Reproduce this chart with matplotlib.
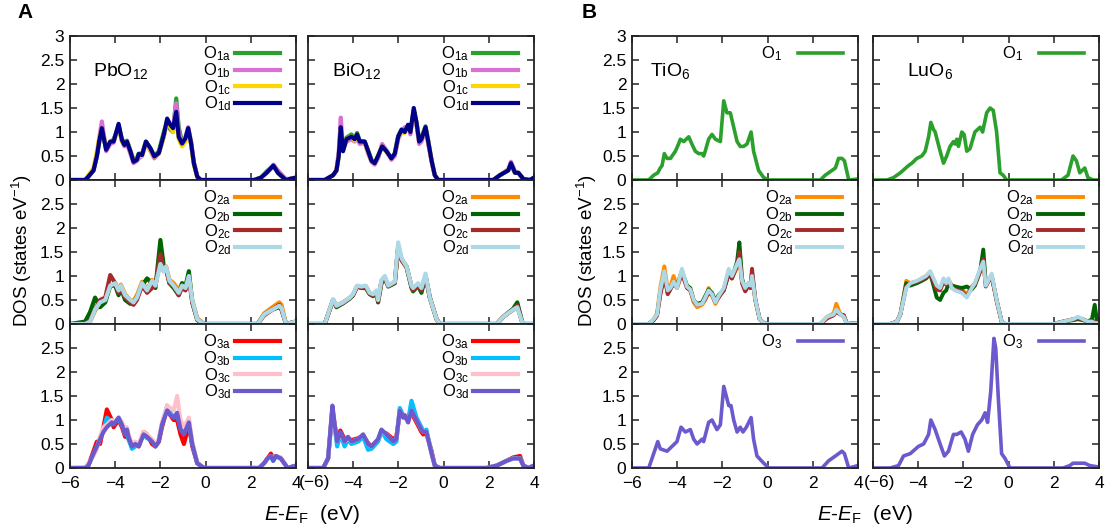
import matplotlib
matplotlib.use('Agg')
import matplotlib.pyplot as plt

plt.rcParams['font.family'] = ['Liberation Sans', 'DejaVu Sans']
plt.rcParams['mathtext.fontset'] = 'custom'
plt.rcParams['mathtext.rm'] = 'Liberation Sans'
plt.rcParams['mathtext.it'] = 'Liberation Sans:italic'
plt.rcParams['mathtext.bf'] = 'Liberation Sans:bold'

# ---------------- data: panel A, PbO12 ----------------
pbE1 = [-6.0, -5.33, -5.19, -4.96, -4.81, -4.70, -4.59, -4.40, -4.22, -4.07, -3.85, -3.70, -3.59, -3.48, -3.33,
        -3.19, -3.04, -2.96, -2.81, -2.64, -2.44, -2.27, -2.07, -1.85, -1.70, -1.56, -1.44, -1.30, -1.19, -1.04,
        -0.89, -0.77, -0.64, -0.52, -0.37, -0.22, 2.15, 2.45, 2.7, 3.0, 3.2, 3.55, 3.8, 4.0]
pb_O1a = [0, 0, 0.07, 0.2, 0.5, 0.8, 1.0, 0.65, 0.78, 0.85, 1.1, 0.85, 0.78, 0.82, 0.62,
          0.42, 0.45, 0.55, 0.55, 0.8, 0.65, 0.5, 0.6, 1.0, 1.2, 1.05, 1.0, 1.7, 1.1, 0.78,
          0.85, 1.05, 0.75, 0.35, 0.07, 0, 0, 0.05, 0.18, 0.3, 0.15, 0, 0.03, 0.05]
pb_O1b = [0, 0, 0.07, 0.2, 0.5, 0.9, 1.22, 0.6, 0.75, 0.78, 1.15, 0.8, 0.7, 0.75, 0.55,
          0.35, 0.4, 0.45, 0.5, 0.78, 0.6, 0.45, 0.55, 0.9, 1.25, 1.1, 1.1, 1.6, 1.0, 0.75,
          0.9, 1.1, 0.8, 0.38, 0.08, 0, 0, 0.05, 0.15, 0.32, 0.2, 0.02, 0.03, 0.05]
pb_O1c = [0, 0, 0.1, 0.25, 0.6, 0.9, 1.05, 0.7, 0.8, 0.8, 1.12, 0.8, 0.75, 0.8, 0.6,
          0.4, 0.42, 0.52, 0.5, 0.78, 0.62, 0.48, 0.55, 0.9, 1.25, 1.1, 1.0, 1.35, 0.85, 0.7,
          0.8, 1.0, 0.72, 0.32, 0.05, 0, 0, 0.05, 0.15, 0.28, 0.15, 0, 0.03, 0.05]
pb_O1d = [0, 0, 0.07, 0.2, 0.5, 0.83, 1.08, 0.63, 0.8, 0.8, 1.17, 0.83, 0.73, 0.8, 0.6,
          0.38, 0.42, 0.54, 0.52, 0.8, 0.66, 0.49, 0.56, 0.94, 1.28, 1.15, 1.08, 1.42, 0.9, 0.76,
          0.87, 1.08, 0.76, 0.35, 0.07, 0, 0, 0.05, 0.15, 0.3, 0.15, 0, 0.03, 0.05]

pbE2 = [-6.0, -5.33, -5.11, -4.89, -4.67, -4.44, -4.22, -4.0, -3.85, -3.75, -3.56, -3.33, -3.19, -3.04, -2.81,
        -2.59, -2.37, -2.22, -2.0, -1.85, -1.75, -1.6, -1.41, -1.19, -1.04, -0.89, -0.74, -0.59, -0.37, -0.07,
        2.3, 2.59, 2.96, 3.26, 3.36, 3.56, 4.0]
pb_O2a = [0, 0, 0.05, 0.28, 0.42, 0.5, 0.78, 0.85, 0.72, 0.82, 0.62, 0.5, 0.48, 0.6, 0.88,
          0.72, 0.92, 0.82, 1.3, 1.15, 1.2, 0.92, 0.85, 0.7, 0.85, 0.8, 1.0, 0.5, 0.12, 0,
          0, 0.22, 0.35, 0.45, 0.4, 0, 0.05]
pb_O2b = [0, 0.05, 0.25, 0.55, 0.35, 0.45, 0.8, 0.8, 0.6, 0.75, 0.5, 0.42, 0.45, 0.55, 0.8,
          0.95, 0.85, 0.75, 1.75, 1.2, 1.15, 0.85, 0.75, 0.6, 0.85, 0.78, 1.1, 0.45, 0.08, 0,
          0, 0.2, 0.3, 0.35, 0.3, 0, 0.05]
pb_O2c = [0, 0, 0.08, 0.3, 0.5, 0.55, 1.02, 0.85, 0.65, 0.75, 0.55, 0.45, 0.4, 0.5, 0.8,
          0.65, 0.75, 0.8, 1.45, 1.1, 1.15, 0.85, 0.8, 0.6, 0.75, 0.7, 0.95, 0.45, 0.1, 0,
          0, 0.18, 0.3, 0.4, 0.3, 0, 0.05]
pb_O2d = [0, 0, 0.05, 0.3, 0.45, 0.5, 0.8, 0.85, 0.7, 0.8, 0.6, 0.5, 0.45, 0.55, 0.85,
          0.7, 0.9, 0.8, 1.25, 1.1, 1.2, 0.9, 0.8, 0.65, 0.8, 0.75, 1.0, 0.5, 0.1, 0,
          0, 0.2, 0.3, 0.38, 0.33, 0, 0.05]

pbE3 = [-6.0, -5.33, -5.19, -4.96, -4.81, -4.67, -4.52, -4.37, -4.15, -4.07, -3.85, -3.70, -3.56, -3.48, -3.41,
        -3.26, -3.11, -2.96, -2.74, -2.59, -2.37, -2.22, -2.07, -1.93, -1.70, -1.56, -1.41, -1.26, -1.11, -0.96,
        -0.74, -0.59, -0.37, -0.07, 2.37, 2.59, 2.74, 2.89, 2.99, 3.11, 3.33, 3.63, 4.0]
pb_O3a = [0, 0, 0.05, 0.35, 0.55, 0.5, 0.85, 1.22, 1.0, 0.85, 1.0, 0.85, 0.65, 0.75, 0.6,
          0.45, 0.5, 0.45, 0.75, 0.7, 0.5, 0.45, 0.55, 0.85, 1.25, 1.1, 1.0, 1.0, 0.7, 0.5,
          0.9, 0.45, 0.1, 0, 0, 0.1, 0.2, 0.3, 0.2, 0.25, 0.2, 0, 0.05]
pb_O3b = [0, 0, 0.05, 0.3, 0.45, 0.6, 0.8, 1.05, 0.95, 0.95, 1.0, 0.9, 0.7, 0.75, 0.6,
          0.4, 0.45, 0.5, 0.7, 0.62, 0.58, 0.45, 0.6, 0.9, 1.3, 1.15, 1.05, 1.1, 0.85, 0.72,
          0.95, 0.5, 0.1, 0, 0, 0.1, 0.2, 0.25, 0.15, 0.25, 0.2, 0, 0.05]
pb_O3c = [0, 0.02, 0.1, 0.25, 0.4, 0.65, 0.85, 0.9, 1.0, 0.95, 1.05, 0.95, 0.8, 0.85, 0.7,
          0.5, 0.55, 0.5, 0.75, 0.7, 0.6, 0.5, 0.6, 0.95, 1.3, 1.25, 1.2, 1.5, 1.0, 0.85,
          1.05, 0.55, 0.12, 0, 0, 0.1, 0.2, 0.25, 0.2, 0.25, 0.22, 0, 0.05]
pb_O3d = [0, 0, 0.05, 0.3, 0.45, 0.6, 0.75, 0.85, 0.95, 0.9, 1.05, 0.9, 0.7, 0.8, 0.65,
          0.45, 0.5, 0.45, 0.7, 0.65, 0.55, 0.45, 0.55, 0.9, 1.2, 1.1, 1.05, 1.15, 0.8, 0.7,
          0.95, 0.5, 0.1, 0, 0, 0.1, 0.2, 0.25, 0.15, 0.25, 0.2, 0, 0.05]

# ---------------- data: panel A, BiO12 ----------------
biE1 = [-6.0, -5.26, -4.89, -4.74, -4.64, -4.55, -4.45, -4.30, -4.08, -3.93, -3.83, -3.71, -3.49, -3.34, -3.19,
        -3.05, -2.90, -2.72, -2.53, -2.31, -2.16, -2.01, -1.86, -1.72, -1.57, -1.47, -1.32, -1.20, -1.08, -0.98,
        -0.80, -0.68, -0.53, -0.39, -0.24, 2.20, 2.49, 2.86, 2.98, 3.16, 3.31, 3.53, 3.82, 4.0]
bi_O1a = [0, 0, 0.1, 0.2, 0.5, 1.05, 0.65, 0.88, 0.95, 0.85, 0.98, 0.82, 0.8, 0.62, 0.42,
          0.35, 0.5, 0.72, 0.6, 0.45, 0.55, 0.92, 1.05, 1.0, 1.15, 1.0, 1.45, 1.2, 0.85, 0.88,
          1.12, 0.82, 0.4, 0.1, 0, 0, 0.1, 0.2, 0.32, 0.15, 0.15, 0.02, 0, 0.05]
bi_O1b = [0, 0, 0.1, 0.2, 0.6, 1.3, 0.65, 0.8, 0.85, 0.8, 0.9, 0.75, 0.78, 0.55, 0.38,
          0.32, 0.45, 0.75, 0.62, 0.42, 0.5, 0.85, 1.0, 1.1, 1.1, 0.95, 1.45, 1.15, 0.75, 0.8,
          1.05, 0.75, 0.38, 0.1, 0, 0, 0.1, 0.22, 0.38, 0.18, 0.15, 0.02, 0, 0.05]
bi_O1c = [0, 0, 0.1, 0.2, 0.5, 1.05, 0.6, 0.85, 0.9, 0.82, 0.92, 0.8, 0.78, 0.58, 0.4,
          0.35, 0.5, 0.7, 0.58, 0.45, 0.55, 0.88, 1.0, 0.98, 1.12, 1.0, 1.45, 1.18, 0.8, 0.85,
          1.08, 0.8, 0.4, 0.1, 0, 0, 0.1, 0.2, 0.33, 0.15, 0.15, 0.02, 0, 0.05]
bi_O1d = [0, 0, 0.1, 0.2, 0.5, 1.1, 0.6, 0.85, 0.9, 0.85, 0.95, 0.8, 0.8, 0.6, 0.4,
          0.35, 0.5, 0.7, 0.6, 0.45, 0.55, 0.9, 1.05, 1.0, 1.15, 1.0, 1.5, 1.2, 0.8, 0.85,
          1.1, 0.8, 0.4, 0.1, 0, 0, 0.1, 0.2, 0.35, 0.15, 0.15, 0.02, 0, 0.05]

biE2 = [-6.0, -5.26, -4.89, -4.74, -4.45, -4.15, -4.01, -3.83, -3.64, -3.44, -3.27, -3.12, -2.97, -2.90, -2.75,
        -2.60, -2.45, -2.16, -2.01, -1.86, -1.64, -1.42, -1.35, -1.13, -0.98, -0.80, -0.61, -0.31, -0.17, 2.35,
        2.64, 3.08, 3.26, 3.50, 4.0]
bi_O2a = [0, 0, 0.5, 0.38, 0.45, 0.55, 0.6, 0.78, 0.76, 0.78, 0.64, 0.6, 0.68, 0.5, 0.9,
          0.95, 0.8, 0.86, 1.6, 1.33, 1.18, 0.8, 0.72, 0.82, 0.72, 1.0, 0.55, 0.1, 0, 0,
          0.15, 0.3, 0.38, 0, 0]
bi_O2b = [0, 0, 0.5, 0.35, 0.43, 0.53, 0.6, 0.78, 0.75, 0.75, 0.62, 0.58, 0.68, 0.45, 0.85,
          0.95, 0.78, 0.85, 1.6, 1.35, 1.2, 0.75, 0.68, 0.8, 0.65, 1.0, 0.55, 0.1, 0, 0,
          0.15, 0.32, 0.45, 0, 0]
bi_O2c = [0, 0, 0.5, 0.37, 0.44, 0.54, 0.6, 0.78, 0.76, 0.78, 0.63, 0.6, 0.68, 0.48, 0.88,
          0.95, 0.8, 0.86, 1.6, 1.33, 1.18, 0.78, 0.7, 0.8, 0.7, 1.0, 0.55, 0.1, 0, 0,
          0.15, 0.3, 0.38, 0, 0]
bi_O2d = [0, 0, 0.52, 0.38, 0.45, 0.55, 0.62, 0.8, 0.78, 0.8, 0.65, 0.62, 0.7, 0.5, 0.92,
          1.0, 0.8, 0.88, 1.7, 1.37, 1.2, 0.8, 0.75, 0.85, 0.75, 1.05, 0.55, 0.1, 0, 0,
          0.15, 0.3, 0.35, 0, 0]

biE3 = [-6.0, -5.33, -5.11, -4.92, -4.82, -4.71, -4.57, -4.38, -4.23, -4.08, -3.78, -3.56, -3.34, -3.19, -2.90,
        -2.75, -2.53, -2.23, -2.09, -1.94, -1.79, -1.72, -1.57, -1.42, -1.20, -0.98, -0.90, -0.76, -0.53, -0.39,
        -0.17, 1.90, 2.35, 2.79, 3.08, 3.38, 3.53, 3.75, 4.0]
bi_O3a = [0, 0, 0.2, 1.25, 0.9, 0.6, 0.78, 0.6, 0.62, 0.58, 0.62, 0.68, 0.52, 0.45, 0.58,
          0.75, 0.72, 0.6, 0.65, 1.15, 1.1, 1.05, 1.0, 1.15, 0.95, 0.75, 0.7, 0.72, 0.35, 0.05,
          0, 0, 0.05, 0.15, 0.22, 0.25, 0.05, 0, 0.05]
bi_O3b = [0, 0, 0.2, 1.2, 0.85, 0.45, 0.7, 0.45, 0.6, 0.5, 0.55, 0.65, 0.38, 0.4, 0.55,
          0.78, 0.6, 0.5, 0.55, 1.25, 1.1, 1.1, 1.0, 1.4, 1.05, 0.85, 0.75, 0.8, 0.3, 0.05,
          0, 0, 0.05, 0.15, 0.2, 0.2, 0.05, 0, 0.05]
bi_O3c = [0, 0, 0.2, 1.25, 0.88, 0.55, 0.72, 0.55, 0.62, 0.55, 0.6, 0.7, 0.5, 0.45, 0.6,
          0.78, 0.7, 0.55, 0.6, 1.2, 1.05, 1.1, 0.95, 1.2, 1.0, 0.8, 0.75, 0.75, 0.3, 0.05,
          0, 0, 0.05, 0.15, 0.2, 0.2, 0.05, 0, 0.05]
bi_O3d = [0, 0, 0.2, 1.3, 0.9, 0.55, 0.75, 0.55, 0.65, 0.55, 0.6, 0.7, 0.5, 0.45, 0.6,
          0.8, 0.7, 0.55, 0.6, 1.2, 1.05, 1.1, 0.95, 1.2, 1.0, 0.8, 0.75, 0.75, 0.3, 0.05,
          0, 0, 0.05, 0.15, 0.2, 0.2, 0.05, 0, 0.05]

# ---------------- data: panel B, TiO6 ----------------
tiE1 = [-6.0, -5.26, -5.04, -4.86, -4.75, -4.67, -4.57, -4.45, -4.30, -4.08, -3.94, -3.86, -3.71, -3.49, -3.35,
        -3.20, -3.05, -2.90, -2.83, -2.76, -2.61, -2.46, -2.31, -2.09, -1.94, -1.80, -1.65, -1.50, -1.35, -1.21,
        -1.06, -0.91, -0.73, -0.62, -0.40, -0.17, 0.05, 2.33, 2.55, 2.85, 3.0, 3.14, 3.29, 3.40, 3.59, 4.0]
ti_O1 = [0, 0, 0.1, 0.15, 0.25, 0.3, 0.55, 0.45, 0.45, 0.6, 0.75, 0.85, 0.8, 0.9, 0.75,
         0.6, 0.55, 0.55, 0.5, 0.6, 0.85, 0.95, 0.85, 0.8, 1.65, 1.4, 1.4, 1.1, 0.8, 0.7,
         0.7, 0.75, 1.0, 0.6, 0.2, 0.05, 0, 0, 0.1, 0.2, 0.25, 0.45, 0.45, 0.4, 0, 0.02]

tiE2 = [-6.0, -5.26, -5.04, -4.89, -4.75, -4.57, -4.42, -4.30, -4.16, -4.01, -3.79, -3.57, -3.42, -3.27, -3.12,
        -2.90, -2.76, -2.61, -2.46, -2.31, -2.17, -1.94, -1.72, -1.58, -1.35, -1.25, -1.13, -0.99, -0.84, -0.76,
        -0.69, -0.54, -0.35, -0.17, -0.03, 2.33, 2.63, 2.92, 3.04, 3.22, 3.37, 3.51, 4.0]
ti_O2a = [0, 0, 0.1, 0.22, 0.75, 1.2, 0.72, 0.78, 1.0, 0.78, 1.1, 0.8, 0.7, 0.45, 0.35,
          0.4, 0.5, 0.75, 0.6, 0.42, 0.55, 0.72, 1.1, 0.95, 1.2, 1.3, 0.85, 0.7, 0.8, 0.78,
          0.95, 0.48, 0.1, 0.02, 0, 0, 0.15, 0.22, 0.42, 0.2, 0.15, 0, 0.02]
ti_O2b = [0, 0, 0.08, 0.18, 0.65, 1.05, 0.65, 0.75, 0.85, 0.8, 1.1, 0.8, 0.75, 0.5, 0.42,
          0.45, 0.58, 0.72, 0.65, 0.48, 0.6, 0.7, 1.05, 0.95, 1.3, 1.7, 0.95, 0.7, 0.85, 0.75,
          1.05, 0.5, 0.1, 0.02, 0, 0, 0.12, 0.2, 0.28, 0.2, 0.18, 0, 0.02]
ti_O2c = [0, 0, 0.08, 0.18, 0.6, 1.0, 0.62, 0.72, 0.85, 0.75, 1.05, 0.75, 0.7, 0.48, 0.4,
          0.42, 0.52, 0.65, 0.6, 0.45, 0.55, 0.7, 1.05, 0.95, 1.2, 1.5, 0.85, 0.68, 0.8, 0.75,
          1.15, 0.5, 0.1, 0.02, 0, 0, 0.12, 0.18, 0.25, 0.2, 0.18, 0, 0.02]
ti_O2d = [0, 0, 0.1, 0.2, 0.7, 1.1, 0.7, 0.75, 0.88, 0.75, 1.15, 0.78, 0.72, 0.5, 0.4,
          0.42, 0.55, 0.7, 0.62, 0.45, 0.58, 0.75, 1.15, 1.0, 1.25, 1.35, 0.9, 0.75, 0.85, 0.8,
          1.0, 0.5, 0.1, 0.02, 0, 0, 0.15, 0.2, 0.3, 0.2, 0.15, 0, 0.02]

tiE3 = [-6.0, -5.26, -5.04, -4.86, -4.75, -4.45, -4.23, -4.01, -3.83, -3.64, -3.42, -3.27, -3.12, -2.90, -2.83,
        -2.61, -2.46, -2.24, -2.09, -1.94, -1.72, -1.62, -1.50, -1.35, -1.21, -1.09, -0.94, -0.73, -0.62, -0.47,
        -0.17, 0.05, 2.41, 2.70, 3.0, 3.29, 3.40, 3.59, 4.0]
ti_O3 = [0, 0, 0.3, 0.55, 0.4, 0.35, 0.45, 0.55, 0.85, 0.75, 0.8, 0.6, 0.5, 0.6, 0.55,
         0.95, 1.0, 0.8, 0.9, 1.7, 1.3, 1.3, 1.0, 0.75, 0.85, 0.75, 0.85, 1.05, 0.6, 0.25,
         0.1, 0, 0, 0.15, 0.25, 0.35, 0.3, 0, 0.05]

# ---------------- data: panel B, LuO6 ----------------
luE1 = [-6.0, -5.38, -5.09, -4.79, -4.43, -4.28, -4.06, -3.84, -3.69, -3.54, -3.44, -3.32, -3.25, -3.03, -2.88,
        -2.74, -2.59, -2.44, -2.37, -2.29, -2.22, -2.07, -1.97, -1.85, -1.71, -1.49, -1.26, -1.15, -0.97, -0.82,
        -0.68, -0.53, -0.38, -0.24, -0.09, 2.34, 2.63, 2.85, 3.0, 3.15, 3.37, 3.51, 3.74, 4.0]
lu_O1 = [0, 0, 0.05, 0.15, 0.3, 0.35, 0.45, 0.5, 0.6, 0.9, 1.2, 1.05, 1.0, 0.6, 0.35,
         0.5, 0.7, 0.8, 0.75, 0.85, 0.7, 1.0, 0.95, 0.6, 0.65, 1.0, 1.1, 1.0, 1.4, 1.5,
         1.45, 1.0, 0.15, 0.1, 0, 0, 0.1, 0.5, 0.4, 0.15, 0.25, 0.05, 0, 0]

luE2 = [-6.0, -5.24, -4.94, -4.79, -4.65, -4.53, -4.35, -4.06, -3.84, -3.65, -3.47, -3.32, -3.18, -3.03, -2.88,
        -2.76, -2.66, -2.51, -2.37, -2.07, -1.85, -1.63, -1.49, -1.26, -1.12, -1.01, -0.90, -0.75, -0.53, -0.31,
        -0.16, 1.97, 2.41, 2.85, 3.07, 3.29, 3.51, 3.69, 3.81, 3.9, 4.0]
lu_O2a = [0, 0, 0.05, 0.2, 0.55, 0.9, 0.85, 0.88, 0.95, 1.0, 1.08, 0.9, 0.75, 0.72, 0.9,
          0.85, 0.92, 0.8, 0.78, 0.72, 0.62, 0.78, 0.85, 1.1, 1.3, 0.8, 0.88, 1.0, 0.5, 0.05,
          0, 0, 0.05, 0.1, 0.12, 0.1, 0.05, 0.08, 0.05, 0.02, 0]
lu_O2b = [0, 0, 0.05, 0.2, 0.55, 0.85, 0.8, 0.85, 0.9, 0.95, 1.05, 0.8, 0.55, 0.5, 0.65,
          0.7, 0.85, 0.8, 0.78, 0.75, 0.78, 0.72, 0.8, 1.1, 1.55, 0.85, 0.9, 1.0, 0.5, 0.05,
          0, 0, 0.05, 0.08, 0.1, 0.08, 0.05, 0.1, 0.4, 0.1, 0]
lu_O2c = [0, 0, 0.05, 0.2, 0.5, 0.78, 0.85, 0.88, 0.92, 0.98, 1.05, 0.88, 0.72, 0.7, 0.88,
          0.82, 0.9, 0.75, 0.72, 0.68, 0.58, 0.75, 0.82, 1.1, 1.35, 0.78, 0.88, 1.0, 0.48, 0.05,
          0, 0, 0.05, 0.1, 0.12, 0.1, 0.05, 0.06, 0.05, 0.02, 0]
lu_O2d = [0, 0, 0.05, 0.2, 0.5, 0.75, 0.85, 0.9, 0.95, 1.0, 1.1, 0.95, 0.8, 0.75, 0.95,
          0.85, 0.95, 0.75, 0.7, 0.65, 0.55, 0.75, 0.85, 1.15, 1.3, 0.8, 0.9, 1.05, 0.5, 0.05,
          0, 0, 0.05, 0.1, 0.15, 0.1, 0.05, 0.05, 0.02, 0.02, 0]

luE3 = [-6.0, -5.24, -4.87, -4.65, -4.35, -3.99, -3.76, -3.54, -3.44, -3.25, -3.03, -2.84, -2.66, -2.44, -2.29,
        -2.10, -1.93, -1.78, -1.59, -1.38, -1.19, -1.04, -0.93, -0.79, -0.65, -0.57, -0.46, -0.31, -0.16, 0.06,
        2.41, 2.71, 2.85, 3.37, 3.59, 4.0]
lu_O3 = [0, 0, 0.05, 0.25, 0.3, 0.45, 0.5, 0.7, 1.0, 0.8, 0.5, 0.25, 0.35, 0.7, 0.7,
         0.75, 0.6, 0.35, 0.7, 0.9, 1.0, 1.15, 0.95, 1.6, 2.7, 2.5, 1.5, 0.3, 0.2, 0,
         0, 0.05, 0.1, 0.1, 0.05, 0.02]

labels1 = ['O$_{\\rm 1a}$', 'O$_{\\rm 1b}$', 'O$_{\\rm 1c}$', 'O$_{\\rm 1d}$']
labels2 = ['O$_{\\rm 2a}$', 'O$_{\\rm 2b}$', 'O$_{\\rm 2c}$', 'O$_{\\rm 2d}$']
labels3 = ['O$_{\\rm 3a}$', 'O$_{\\rm 3b}$', 'O$_{\\rm 3c}$', 'O$_{\\rm 3d}$']
xticks = [-6, -4, -2, 0, 2, 4]
yticks = [0, 0.5, 1, 1.5, 2, 2.5, 3]
ytick_labels = ['0', '0.5', '1', '1.5', '2', '2.5', '3']

col1 = ['#2ca02c', '#da70d6', '#ffd700', '#00008b']
col2 = ['#ff8c00', '#006400', '#a52a2a', '#add8e6']
col3 = ['#ff0000', '#00bfff', '#ffc0cb', '#6a5acd']

W, H = 1108.0, 531.0
fig = plt.figure(figsize=(W / 100, H / 100), dpi=100)

col_left = [70, 308, 632, 873]
row_top = [36, 180, 324]
AXW, AXH = 226, 144


def make_ax(c, r):
    ax = fig.add_axes([col_left[c] / W, 1 - (row_top[r] + AXH) / H, AXW / W, AXH / H])
    ax.set_xlim(-6, 4)
    ax.set_ylim(0, 3)
    ax.set_xticks(xticks)
    ax.set_yticks(yticks)
    ax.tick_params(direction='in', top=True, right=True, length=5, width=1.1,
                   labelsize=12.5, colors='#222222', labelcolor='black')
    ax.tick_params(axis='y', pad=4)
    ax.tick_params(axis='x', pad=5.5)
    for s in ax.spines.values():
        s.set_linewidth(1.3)
        s.set_color('#222222')
    if c in (0, 2):
        lab = list(ytick_labels)
        if r > 0:
            lab[-1] = ''
        ax.set_yticklabels(lab)
    else:
        ax.set_yticklabels([])
    if r == 2:
        if c in (0, 2):
            ax.set_xticklabels(['\u22126', '\u22124', '\u22122', '0', '2', '4'])
        else:
            ax.set_xticklabels(['', '\u22124', '\u22122', '0', '2', '4'])
            ax.annotate('(\u22126)', xy=(-6, 0), xycoords=('data', 'axes fraction'),
                        xytext=(-6.5, -5.0), textcoords='offset points', ha='left', va='top',
                        fontsize=12.5)
    else:
        ax.set_xticklabels([])
    return ax


def add_legend(ax, lines, labels, xa, ya, tpad):
    ax.legend(lines, labels, loc='upper right', bbox_to_anchor=(xa, ya), frameon=False,
              markerfirst=False, handlelength=2.7, handletextpad=tpad, labelspacing=-0.12,
              borderpad=0, borderaxespad=0, fontsize=12)


def quad(ax, E, series, cols, labels, lw=3.0):
    lines = []
    for ys, cc in zip(series, cols):
        ln, = ax.plot(E, ys, color=cc, lw=lw, solid_joinstyle='round')
        lines.append(ln)
    add_legend(ax, lines, labels, 0.93, 0.94, 0.25)


# Panel A
ax = make_ax(0, 0)
quad(ax, pbE1, [pb_O1a, pb_O1b, pb_O1c, pb_O1d], col1, labels1)
ax.text(0.10, 0.76, 'PbO$_{12}$', transform=ax.transAxes, fontsize=14, va='center')
ax = make_ax(0, 1)
quad(ax, pbE2, [pb_O2a, pb_O2b, pb_O2c, pb_O2d], col2, labels2)
ax = make_ax(0, 2)
quad(ax, pbE3, [pb_O3a, pb_O3b, pb_O3c, pb_O3d], col3, labels3)

ax = make_ax(1, 0)
quad(ax, biE1, [bi_O1a, bi_O1b, bi_O1c, bi_O1d], col1, labels1)
ax.text(0.106, 0.76, 'BiO$_{12}$', transform=ax.transAxes, fontsize=14, va='center')
ax = make_ax(1, 1)
quad(ax, biE2, [bi_O2a, bi_O2b, bi_O2c, bi_O2d], col2, labels2)
ax = make_ax(1, 2)
quad(ax, biE3, [bi_O3a, bi_O3b, bi_O3c, bi_O3d], col3, labels3)

# Panel B
ax = make_ax(2, 0)
ln, = ax.plot(tiE1, ti_O1, color='#2ca02c', lw=2.6)
add_legend(ax, [ln], ['O$_{\\rm 1}$'], 0.935, 0.94, 1.0)
ax.text(0.08, 0.76, 'TiO$_{6}$', transform=ax.transAxes, fontsize=14, va='center')
ax = make_ax(2, 1)
quad(ax, tiE2, [ti_O2a, ti_O2b, ti_O2c, ti_O2d], col2, labels2, lw=2.8)
ax = make_ax(2, 2)
ln, = ax.plot(tiE3, ti_O3, color='#6a5acd', lw=2.6)
add_legend(ax, [ln], ['O$_{\\rm 3}$'], 0.935, 0.94, 1.0)

ax = make_ax(3, 0)
ln, = ax.plot(luE1, lu_O1, color='#2ca02c', lw=2.6)
add_legend(ax, [ln], ['O$_{\\rm 1}$'], 0.935, 0.94, 1.0)
ax.text(0.15, 0.76, 'LuO$_{6}$', transform=ax.transAxes, fontsize=14, va='center')
ax = make_ax(3, 1)
quad(ax, luE2, [lu_O2a, lu_O2b, lu_O2c, lu_O2d], col2, labels2, lw=2.8)
ax = make_ax(3, 2)
ln, = ax.plot(luE3, lu_O3, color='#6a5acd', lw=2.6)
add_legend(ax, [ln], ['O$_{\\rm 3}$'], 0.935, 0.94, 1.0)

# Figure-level labels
fig.text(25 / W, 1 - 12 / H, 'A', fontsize=15, fontweight='bold', ha='center', va='center')
fig.text(589 / W, 1 - 12 / H, 'B', fontsize=15, fontweight='bold', ha='center', va='center')
for xl in (22, 587):
    fig.text(xl / W, 1 - 250 / H, 'DOS (states eV$^{-1}$)', rotation=90, ha='center',
             va='center', fontsize=13.5)
for xc in (312, 865):
    fig.text(xc / W, 1 - 514 / H, '$\\it{E}$-$\\it{E}_{\\rm F}$  (eV)', ha='center',
             va='center', fontsize=15)

fig.savefig('out.png', dpi=100)
